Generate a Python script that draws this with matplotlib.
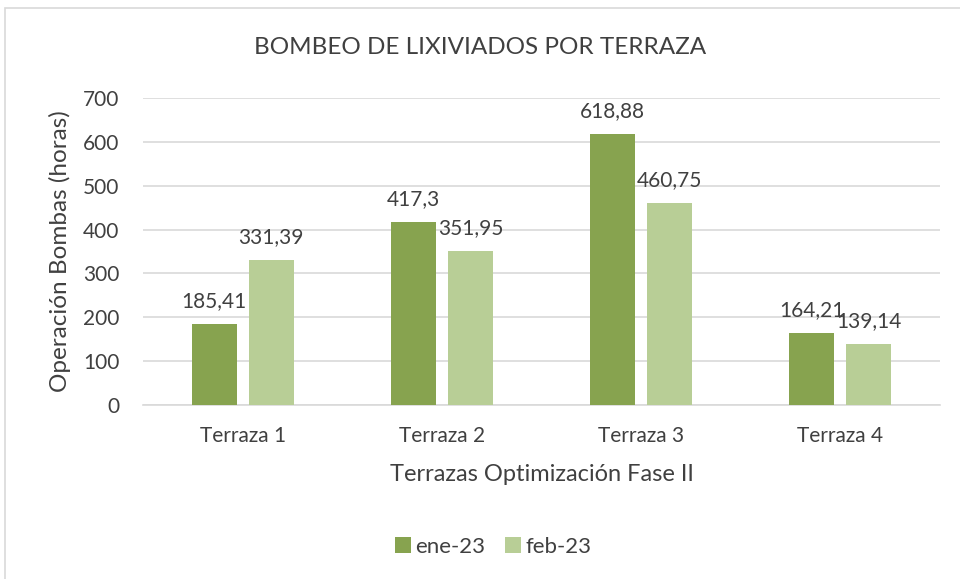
#!/usr/bin/env python3
"""Bombeo de lixiviados por terraza - grouped bars."""

import matplotlib

matplotlib.use("Agg")
import matplotlib.pyplot as plt
import numpy as np
from matplotlib.patches import Rectangle

categories = ["Terraza 1", "Terraza 2", "Terraza 3", "Terraza 4"]
ene_23 = [185.41, 417.3, 618.88, 164.21]
feb_23 = [331.39, 351.95, 460.75, 139.14]
series_names = ["ene-23", "feb-23"]
y_ticks = [0, 100, 200, 300, 400, 500, 600, 700]

DARK = "#87A34F"
LIGHT = "#B8CE96"
TEXT = "#404040"
GRID = "#D9D9D9"

plt.rcParams["font.family"] = ["Lato", "DejaVu Sans"]


def fmt(v: float) -> str:
    s = f"{v:.2f}".rstrip("0").rstrip(".")
    return s.replace(".", ",")


def main() -> int:
    fig = plt.figure(figsize=(9.6, 5.79), dpi=100)
    ax = fig.add_axes([143 / 960, 1 - 405 / 579, (940 - 143) / 960, (405 - 98) / 579])

    x = np.arange(len(categories))
    width = 0.226
    offset = 0.143
    b1 = ax.bar(x - offset, ene_23, width, color=DARK, label=series_names[0], zorder=3)
    b2 = ax.bar(x + offset, feb_23, width, color=LIGHT, label=series_names[1], zorder=3)

    for bars, vals in ((b1, ene_23), (b2, feb_23)):
        for rect, v in zip(bars, vals):
            ax.annotate(fmt(v), (rect.get_x() + rect.get_width() / 2, v),
                        xytext=(0, 9), textcoords="offset points",
                        ha="center", va="bottom", fontsize=15, color=TEXT)

    ax.set_xlim(-0.5, len(categories) - 0.5)
    ax.set_ylim(0, 700)
    ax.set_yticks(y_ticks)
    ax.set_xticks(x)
    ax.set_xticklabels(categories)
    ax.tick_params(axis="both", length=0, labelsize=15, colors=TEXT)
    ax.tick_params(axis="x", pad=15)
    ax.tick_params(axis="y", pad=17)
    ax.yaxis.grid(True, color=GRID, linewidth=1.2, zorder=0)
    for side in ("top", "right", "left"):
        ax.spines[side].set_visible(False)
    ax.spines["bottom"].set_color(GRID)
    ax.spines["bottom"].set_linewidth(1.2)

    ax.set_ylabel("Operación Bombas (horas)", fontsize=17.5, color=TEXT)
    ax.yaxis.set_label_coords(-0.09, 0.5)
    ax.set_xlabel("Terrazas Optimización Fase II", fontsize=17, color=TEXT, labelpad=13)

    fig.text(0.5, 1 - 48 / 579, "BOMBEO DE LIXIVIADOS POR TERRAZA", ha="center", va="center",
             fontsize=17.5, color=TEXT)

    fig.legend(handles=[b1, b2], labels=series_names, loc="center", bbox_to_anchor=(0.514, 1 - 547 / 579),
               ncol=2, frameon=False, fontsize=16, labelcolor=TEXT, handlelength=0.7,
               handleheight=0.7, columnspacing=0.9, handletextpad=0.2)

    fig.patches.append(Rectangle((5 / 960, -0.1), 1.2, 1.1 - 8 / 579, transform=fig.transFigure,
                                 fill=False, edgecolor="#D9D9D9", linewidth=1.2))

    fig.savefig("out.png", dpi=100)
    plt.close(fig)
    return 0


if __name__ == "__main__":
    raise SystemExit(main())
